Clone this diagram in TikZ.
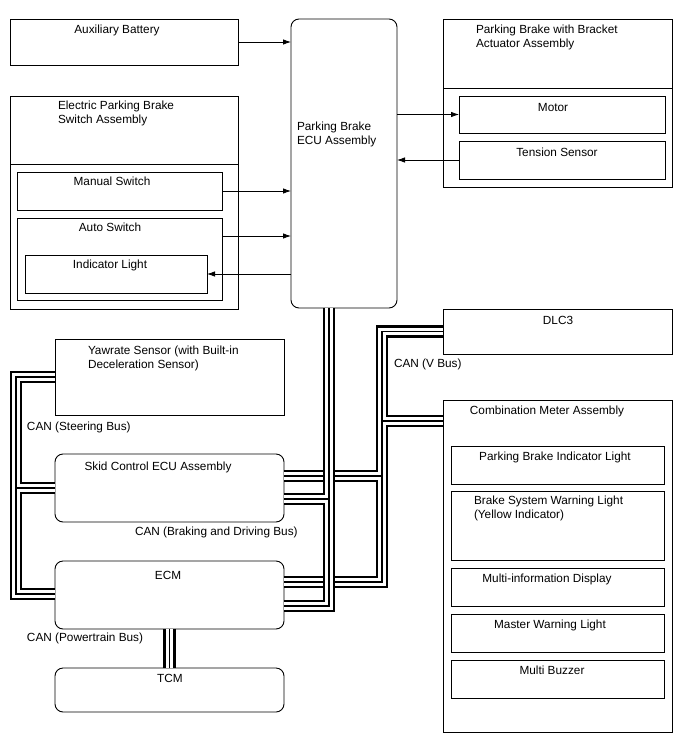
\documentclass[tikz,border=0pt]{standalone}
\usepackage{fontspec}
\setmainfont{Liberation Sans}
\usetikzlibrary{arrows.meta,calc}
\begin{document}
\begin{tikzpicture}[x=1pt,y=-1pt,
  box/.style={draw=black, line width=0.9pt, fill=white, inner sep=0pt, outer sep=0pt, anchor=north west},
  rbox/.style={box, rounded corners=8pt},
  txt/.style={inner sep=0pt, outer sep=0pt, font=\fontsize{11.8}{14.2}\selectfont, align=left},
  arr/.style={line width=0.8pt, -{Latex[length=8pt,width=5.5pt]}},
  busA/.style={line width=12.5pt, black},
  busB/.style={line width=7.5pt, white},
  busC/.style={line width=1.2pt, black},
]
\useasboundingbox[fill=white] (0,0) rectangle (688,755);

% ---------- boxes ----------
\node[box, minimum width=228pt, minimum height=46pt] (aux) at (10,19) {};
\node[box, minimum width=228pt, minimum height=213pt] (eps) at (10,96) {};
\draw[line width=0.9pt] (10,164) -- (238,164);
\node[box, minimum width=205pt, minimum height=38pt] (man) at (17,172) {};
\node[box, minimum width=205pt, minimum height=82pt] (auto) at (17,218) {};
\node[box, minimum width=182pt, minimum height=38pt] (ind) at (25,255) {};

\node[rbox, minimum width=106pt, minimum height=289pt] (ecu) at (291,19) {};

\node[box, minimum width=229pt, minimum height=168pt] (act) at (443,19) {};
\draw[line width=0.9pt] (443,88) -- (672,88);
\node[box, minimum width=206pt, minimum height=37pt] (mot) at (459,96) {};
\node[box, minimum width=206pt, minimum height=38pt] (ten) at (459,141) {};

\node[box, minimum width=229pt, minimum height=45pt] (dlc) at (443,309) {};
\node[box, minimum width=229pt, minimum height=332pt] (comb) at (443,400) {};
\node[box, minimum width=213pt, minimum height=38pt] (pbi) at (451,446) {};
\node[box, minimum width=213pt, minimum height=69pt] (bsw) at (451,491) {};
\node[box, minimum width=213pt, minimum height=38pt] (mid) at (451,568) {};
\node[box, minimum width=213pt, minimum height=38pt] (mwl) at (451,614) {};
\node[box, minimum width=213pt, minimum height=38pt] (buz) at (451,660) {};

\node[box, minimum width=229pt, minimum height=76pt] (yaw) at (55,339) {};
\node[rbox, minimum width=229pt, minimum height=68pt] (skid) at (55,454) {};
\node[rbox, minimum width=229pt, minimum height=68pt] (ecm) at (55,561) {};
\node[rbox, minimum width=229pt, minimum height=44pt] (tcm) at (55,668) {};

% ---------- texts ----------
\node[txt, anchor=north] (auxt) at (117,25) {Auxiliary Battery};
\node[txt, anchor=north west] (epst) at (58,101) {Electric Parking Brake\\Switch Assembly};
\node[txt, anchor=north] (mant) at (112,177) {Manual Switch};
\node[txt, anchor=north] (autot) at (110,223) {Auto Switch};
\node[txt, anchor=north] (indt) at (110,260) {Indicator Light};
\node[txt, anchor=north west] (ecut) at (297,122) {Parking Brake\\ECU Assembly};
\node[txt, anchor=north west] (actt) at (476,25) {Parking Brake with Bracket\\Actuator Assembly};
\node[txt, anchor=north] (mott) at (553,103) {Motor};
\node[txt, anchor=north] (tent) at (557,148) {Tension Sensor};
\node[txt, anchor=north] (dlct) at (558,316) {DLC3};
\node[txt, anchor=north west] (canv) at (394,359) {CAN (V Bus)};
\node[txt, anchor=north] (combt) at (547,406) {Combination Meter Assembly};
\node[txt, anchor=north] (pbit) at (555,452) {Parking Brake Indicator Light};
\node[txt, anchor=north west] (bswt) at (474,496) {Brake System Warning Light\\(Yellow Indicator)};
\node[txt, anchor=north] (midt) at (547,574) {Multi-information Display};
\node[txt, anchor=north] (mwlt) at (550,620) {Master Warning Light};
\node[txt, anchor=north] (buzt) at (552,666) {Multi Buzzer};
\node[txt, anchor=north west] (yawt) at (88,346) {Yawrate Sensor (with Built-in\\Deceleration Sensor)};
\node[txt, anchor=north west] (cans) at (27,422) {CAN (Steering Bus)};
\node[txt, anchor=north] (skidt) at (158,462) {Skid Control ECU Assembly};
\node[txt, anchor=north west] (canb) at (135,527) {CAN (Braking and Driving Bus)};
\node[txt, anchor=north] (ecmt) at (168,571) {ECM};
\node[txt, anchor=north west] (canp) at (27,633) {CAN (Powertrain Bus)};
\node[txt, anchor=north] (tcmt) at (170,674) {TCM};

% ---------- signal arrows ----------
\draw[arr] (aux.east) -- (aux.east -| ecu.west);
\draw[arr] (man.east) -- (man.east -| ecu.west);
\coordinate (autoo) at ($(auto.north east)+(0,18)$);
\draw[arr] (autoo) -- (autoo -| ecu.west);
\draw[arr] (ind.east -| ecu.west) -- (ind.east);
\draw[arr] (mot.west -| ecu.east) -- (mot.west);
\draw[arr] (ten.west) -- (ten.west -| ecu.east);

% ---------- CAN buses ----------
% V bus
\coordinate (vx) at (382,0);
\coordinate (v1) at (dlc.west);
\coordinate (v2) at ($(comb.north west)+(0,21)$);
\coordinate (v3) at ($(skid.north east)+(0,22)$);
\coordinate (v4) at ($(ecm.north east)+(0,21)$);
\foreach \st in {busA,busB,busC}{
  \draw[\st] (v1) -- (v1 -| vx) -- (v4 -| vx) -- (v4);
  \draw[\st] (v2 -| vx) -- (v2);
  \draw[\st] (v3) -- (v3 -| vx);
}
% Braking and Driving bus
\coordinate (bx) at (329,0);
\coordinate (b1) at (ecu.south -| bx);
\coordinate (b2) at ($(skid.north east)+(0,45)$);
\coordinate (b3) at ($(ecm.north east)+(0,45)$);
\foreach \st in {busA,busB,busC}{
  \draw[\st] (b1) -- (b3 -| bx) -- (b3);
  \draw[\st] (b2) -- (b2 -| bx);
}
% Steering bus
\coordinate (sx) at (16,0);
\coordinate (s1) at ($(yaw.north west)+(0,38)$);
\coordinate (s2) at ($(skid.north west)+(0,34)$);
\coordinate (s3) at ($(ecm.north west)+(0,33)$);
\foreach \st in {busA,busB,busC}{
  \draw[\st] (s1) -- (s1 -| sx) -- (s3 -| sx) -- (s3);
  \draw[\st] (s2 -| sx) -- (s2);
}
% Powertrain bus
\foreach \st in {busA,busB,busC}{
  \draw[\st] (ecm.south) -- (tcm.north);
}
\end{tikzpicture}
\end{document}
